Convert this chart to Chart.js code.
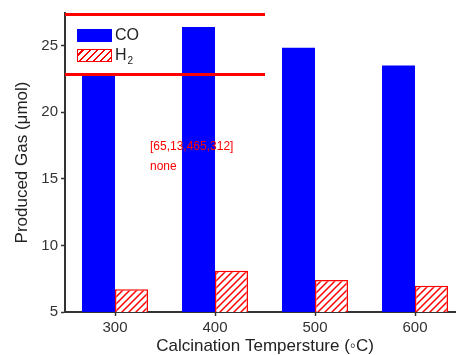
<!DOCTYPE html>
<html>
<head>
<meta charset="utf-8">
<script src="https://cdn.jsdelivr.net/npm/chart.js@4"></script>
<style>
    body { margin: 0; overflow: hidden; background: #fff; }
    .wrap { position: relative; width: 475px; height: 355px; }
    .legend { position: absolute; left: 77px; top: 25px; font-family: "Liberation Sans", Arial, sans-serif; font-size: 16px; color: #222; pointer-events: none; }
    .legend__row { display: flex; align-items: center; height: 20px; line-height: 20px; }
    .legend__swatch { width: 35px; height: 13px; box-sizing: border-box; margin-right: 3px; }
    ._co { background: #0000ff; }
    ._h2 { border: 1px solid #ff0000; background: repeating-linear-gradient(135deg, #fff 0 2.8px, #ff0000 2.8px 4.4px, #fff 4.4px 5px); }
    .sub { font-size: 10px; position: relative; top: 6px; margin-left: 1px; }
</style>
</head>
<body>
<div class="wrap">
    <canvas id="gas-chart"></canvas>
    <div class="legend">
        <div class="legend__row"><div class="legend__swatch _co"></div>CO</div>
        <div class="legend__row"><div class="legend__swatch _h2"></div>H<span class="sub">2</span></div>
    </div>
</div>
<script>
const temps = ['300', '400', '500', '600'];
const coValues = [22.8, 26.4, 24.85, 23.5];
const h2Values = [6.7, 8.1, 7.4, 6.98];
const yTickLabels = [5, 10, 15, 20, 25];

const axisColor = '#333';
const fontFamily = '"Liberation Sans", Arial, sans-serif';

// штриховка для H2
function hatch() {
    const c = document.createElement('canvas');
    c.width = 7;
    c.height = 7;
    const p = c.getContext('2d');
    p.fillStyle = '#fff';
    p.fillRect(0, 0, 7, 7);
    p.strokeStyle = '#ff0000';
    p.lineWidth = 1.5;
    p.beginPath();
    p.moveTo(0, 7); p.lineTo(7, 0);
    p.moveTo(-1, 1); p.lineTo(1, -1);
    p.moveTo(6, 8); p.lineTo(8, 6);
    p.stroke();
    return p.createPattern(c, 'repeat');
}

let drawErr = 'none';

const frame = {
    id: 'frame',
    afterDraw(chart) {
        const c = chart.ctx;
        const a = chart.chartArea;
        c.save();
        c.fillStyle = '#f00';
        c.fillRect(a.left, a.top, 200, 3);
        c.fillRect(a.left, a.top + 60, 200, 3);
        c.font = '12px sans-serif';
        c.fillText(JSON.stringify([a.left, a.top, a.right, a.bottom]), 150, 150);
        c.fillText(drawErr, 150, 170);
        c.restore();
    }
};

window.addEventListener('error', e => { drawErr = String(e.message); });

const gasChart = new Chart(document.getElementById('gas-chart'), {
    type: 'bar',
    data: {
        labels: temps,
        datasets: [
            { label: 'CO', data: coValues, backgroundColor: '#0000ff', borderWidth: 0 },
            { label: 'H2', data: h2Values, backgroundColor: hatch(), borderColor: '#ff0000', borderWidth: 1.5, borderSkipped: false }
        ]
    },
    options: {
        responsive: true,
        maintainAspectRatio: false,
        animation: false,
        layout: { padding: { top: 13, right: 10, left: 0, bottom: 0 } },
        datasets: { bar: { barPercentage: 1, categoryPercentage: 0.66 } },
        plugins: { legend: { display: false } },
        scales: {
            x: {
                offset: true,
                afterFit: s => { s.height = 43; },
                grid: { display: true, drawOnChartArea: false, offset: false, tickLength: 4, tickColor: axisColor, tickWidth: 1.5 },
                border: { color: axisColor, width: 2 },
                ticks: { color: axisColor, font: { family: fontFamily, size: 15 }, padding: 3, maxRotation: 0 },
                title: {
                    display: true,
                    text: 'Calcination Tempersture (\u25E6C)',
                    color: '#222',
                    font: { family: fontFamily, size: 17, lineHeight: 1 },
                    padding: 0
                }
            },
            y: {
                min: 5,
                max: 27.45,
                afterFit: s => { s.width = 65; },
                grid: {
                    display: true, drawOnChartArea: false, tickLength: 4, tickWidth: 1.5,
                    tickColor: c => (c.tick && yTickLabels.includes(c.tick.value) ? axisColor : 'rgba(0,0,0,0)')
                },
                border: { color: axisColor, width: 2 },
                ticks: {
                    stepSize: 2.5,
                    color: axisColor,
                    padding: 3,
                    font: { family: fontFamily, size: 15 },
                    callback: v => (yTickLabels.includes(v) ? v : '')
                },
                title: {
                    display: true,
                    text: 'Produced Gas (\u03BCmol)',
                    color: '#222',
                    font: { family: fontFamily, size: 17, lineHeight: 1.2 },
                    padding: { top: 12, bottom: 0 }
                }
            }
        }
    },
    plugins: [frame]
});
</script>
</body>
</html>
